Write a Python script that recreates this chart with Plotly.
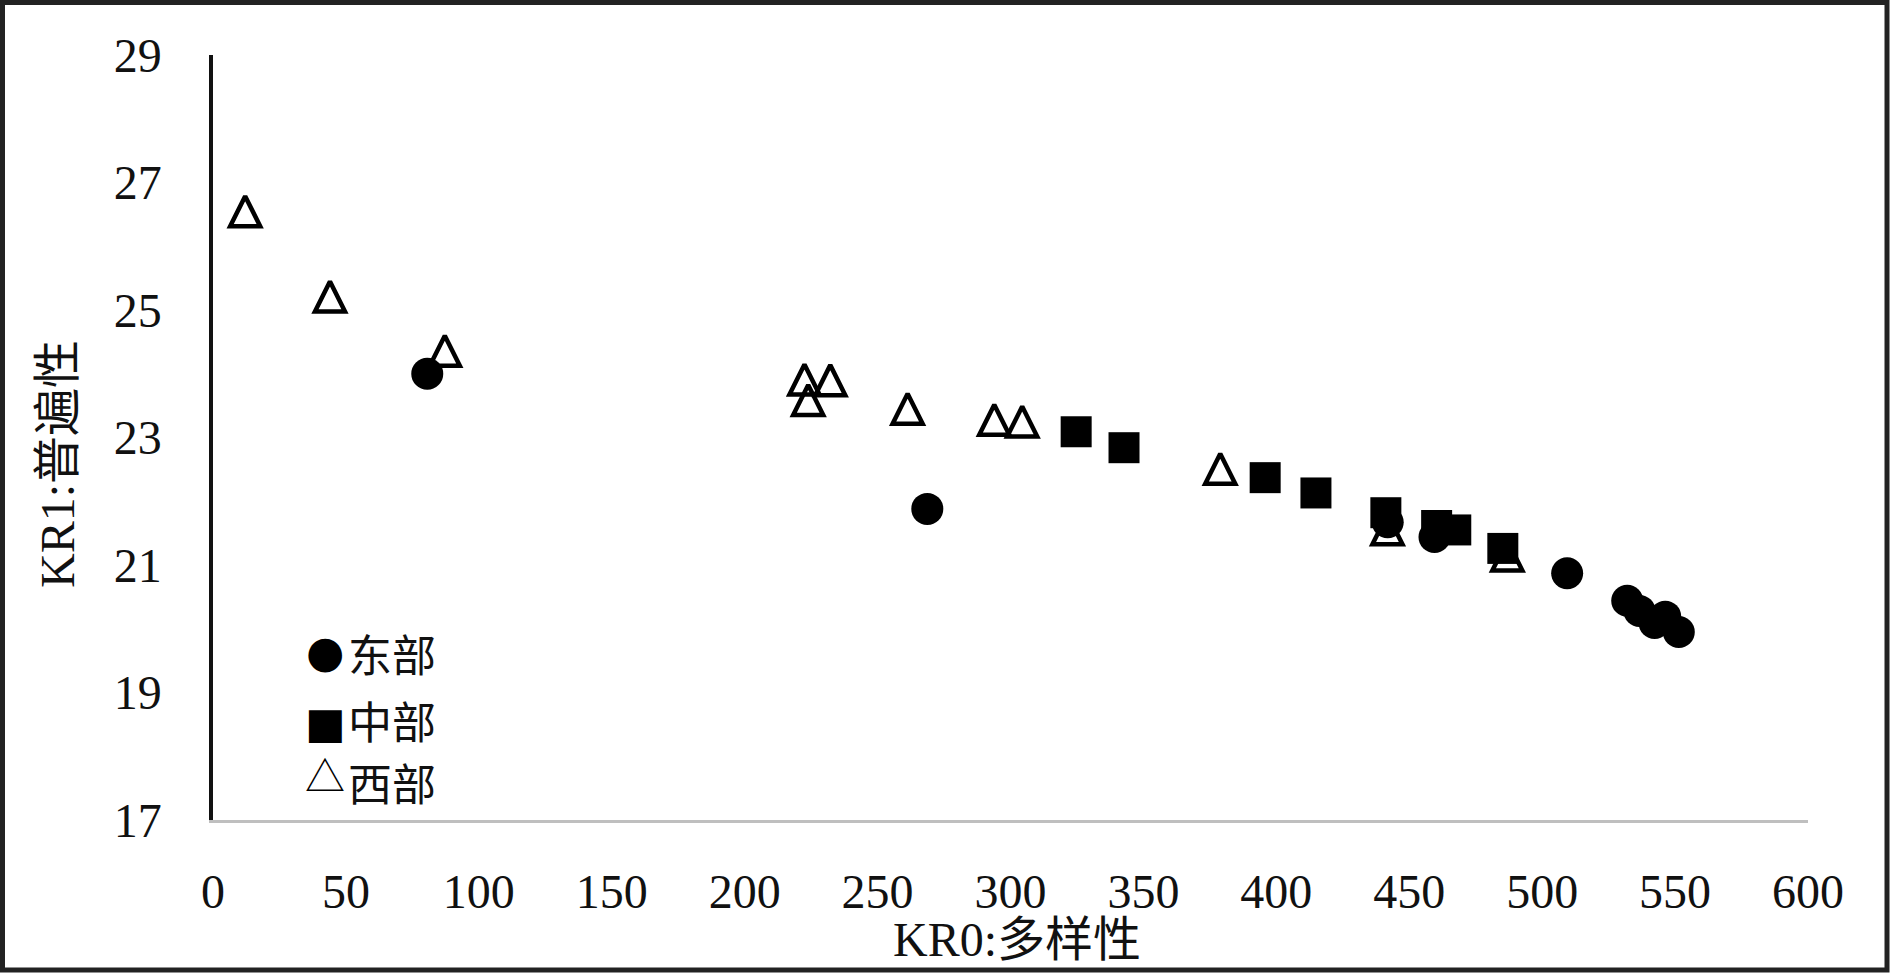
import plotly.graph_objects as go

# ---- data ----
east_name = "东部"
east_x = [80.6, 268.7, 441.9, 459.5, 509.4, 532.0, 536.6, 542.3, 546.3, 551.4]
east_y = [24.00, 21.88, 21.67, 21.44, 20.87, 20.44, 20.28, 20.09, 20.19, 19.95]

central_name = "中部"
central_x = [324.7, 342.7, 395.8, 414.9, 441.2, 460.3, 467.5, 485.2]
central_y = [23.09, 22.84, 22.37, 22.13, 21.82, 21.62, 21.55, 21.26]

west_name = "西部"
west_x = [12.1, 44.0, 87.2, 222.5, 223.9, 232.2, 261.3, 293.9, 304.4, 378.9, 441.8, 486.9]
west_y = [26.55, 25.21, 24.36, 23.91, 23.59, 23.90, 23.45, 23.28, 23.25, 22.51, 21.56, 21.15]

x_title = "KR0:多样性"
y_title = "KR1:普遍性"
x_range = [0, 600]
y_range = [17, 29]

# ---- layout geometry ----
W, H = 1890, 973
ML, MR, MT, MB = 213, 82, 55, 153
PW, PH = W - ML - MR, H - MT - MB


def px(xp):
    return (xp - ML) / PW


def py(yp):
    return (H - MB - yp) / PH


SERIF = "Liberation Serif, Times New Roman, Noto Sans CJK SC, serif"
CJK = "Noto Sans CJK SC, sans-serif"

fig = go.Figure()

TRI = 30
fig.add_trace(go.Scatter(
    x=west_x, y=west_y, mode="markers", name=west_name,
    marker=dict(symbol="arrow-down-open", size=TRI, angle=180, standoff=TRI / 2,
                color="black", line=dict(color="black", width=4.5)),
))
fig.add_trace(go.Scatter(
    x=east_x, y=east_y, mode="markers", name=east_name,
    marker=dict(symbol="circle", size=32, color="black", line=dict(width=0)),
))
fig.add_trace(go.Scatter(
    x=central_x, y=central_y, mode="markers", name=central_name,
    marker=dict(symbol="square", size=31, color="black", line=dict(width=0)),
))

annotations = [
    dict(text=x_title, x=px(1017), y=py(940), xref="paper", yref="paper",
         xanchor="center", yanchor="middle", showarrow=False,
         font=dict(family=SERIF, size=48, color="#111")),
    dict(text=y_title, x=px(57), y=py(464), xref="paper", yref="paper",
         xanchor="center", yanchor="middle", showarrow=False, textangle=-90,
         font=dict(family=SERIF, size=48, color="#111")),
]

legend_rows = [
    ("●", east_name, 651, 653, 44, "DejaVu Sans"),
    ("■", central_name, 723, 720, 43, "DejaVu Sans"),
    ("△", west_name, 774, 782, 40, "Noto Sans CJK SC"),
]
for glyph, label, gy, ty, gsize, gfam in legend_rows:
    annotations.append(dict(text=glyph, x=px(325), y=py(gy), xref="paper", yref="paper",
                            xanchor="center", yanchor="middle", showarrow=False,
                            font=dict(family=gfam, size=gsize, color="black")))
    annotations.append(dict(text=label, x=px(346), y=py(ty), xref="paper", yref="paper",
                            xanchor="left", yanchor="middle", showarrow=False,
                            font=dict(family=CJK, size=44, color="#111")))

fig.update_layout(
    width=W, height=H,
    margin=dict(l=ML, r=MR, t=MT, b=MB, pad=0),
    paper_bgcolor="white", plot_bgcolor="white",
    showlegend=False,
    annotations=annotations,
    shapes=[dict(type="rect", xref="paper", yref="paper",
                 x0=px(2.5), x1=px(W - 3), y0=py(H - 3), y1=py(2.5),
                 line=dict(color="#222", width=5), fillcolor="rgba(0,0,0,0)", layer="above")],
    xaxis=dict(range=x_range, tick0=0, dtick=50, showgrid=False, zeroline=False,
               showline=True, linecolor="#bfbfbf", linewidth=3, ticks="",
               ticklabelstandoff=27,
               tickfont=dict(family=SERIF, size=48, color="#111")),
    yaxis=dict(range=y_range, tick0=17, dtick=2, showgrid=False, zeroline=False,
               showline=True, linecolor="#111", linewidth=3.5, ticks="",
               ticklabelstandoff=38,
               tickfont=dict(family=SERIF, size=48, color="#111")),
)

fig.write_html("out.html", config={"displayModeBar": False},
               post_script="document.body.style.margin='0';document.body.style.overflow='hidden';")
